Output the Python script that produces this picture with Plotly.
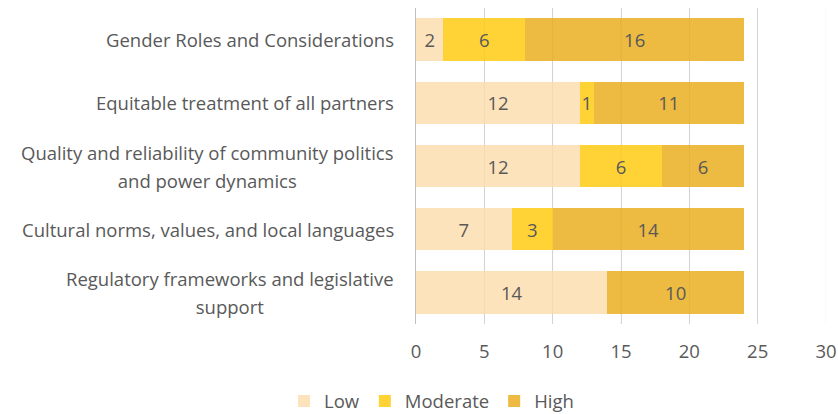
import plotly.graph_objects as go

categories = [
    "Gender Roles and Considerations",
    "Equitable treatment of all partners",
    "Quality and reliability of community politics<br>and power dynamics",
    "Cultural norms, values, and local languages",
    "Regulatory frameworks and legislative<br>support",
]
low = [2, 12, 12, 7, 14]
moderate = [6, 1, 6, 3, 0]
high = [16, 11, 6, 14, 10]
x_ticks = [0, 5, 10, 15, 20, 25, 30]

series = [
    ("Low", low, "#FDE3BB"),
    ("Moderate", moderate, "#FFD336"),
    ("High", high, "#EDBA42"),
]

FONT = "'Open Sans', Calibri, sans-serif"
GREY = "#595959"
SIZE = 18.5

fig = go.Figure()
for name, vals, color in series:
    fig.add_trace(go.Bar(
        y=list(range(len(categories))),
        x=vals,
        name=name,
        orientation="h",
        marker=dict(color=color, line=dict(width=0)),
        text=[str(v) if v else "" for v in vals],
        textposition="inside",
        insidetextanchor="middle",
        textfont=dict(family=FONT, size=SIZE, color=GREY),
        constraintext="none",
        hoverinfo="skip",
    ))

# Category labels as centred multi-line annotations on the left;
# a larger base font widens the line spacing while the spans keep the glyph size
for i, cat in enumerate(categories):
    lines = cat.split("<br>")
    text = "<br>".join(f"<span style='font-size:{SIZE}px'>{ln}</span>" for ln in lines)
    fig.add_annotation(
        x=0, xref="paper", y=i, yref="y",
        text=text, showarrow=False,
        xanchor="right", yanchor="middle", align="center",
        xshift=-20,
        font=dict(family=FONT, size=21.5, color=GREY),
    )

# faint gridline traces showing through the bars
for t in x_ticks[1:]:
    fig.add_shape(type="line", xref="x", yref="paper", x0=t, x1=t, y0=0, y1=1,
                  line=dict(color="rgba(0,0,0,0.04)", width=1), layer="above")

fig.update_layout(
    barmode="stack",
    bargap=0.33,
    width=838, height=414,
    margin=dict(l=416, r=12, t=8, b=90),
    paper_bgcolor="white",
    plot_bgcolor="white",
    font=dict(family=FONT, size=SIZE, color=GREY),
    legend=dict(
        orientation="h",
        xref="container", yref="container",
        x=0.515, y=0.03, xanchor="center", yanchor="middle",
        font=dict(family=FONT, size=SIZE, color=GREY),
        itemwidth=30, traceorder="normal",
    ),
)
fig.update_xaxes(
    range=[0, 30], tickvals=x_ticks, ticktext=[str(t) for t in x_ticks],
    showgrid=True, gridcolor="#DADADA", gridwidth=1,
    zeroline=False, showline=False, ticks="",
    tickfont=dict(family=FONT, size=SIZE, color=GREY),
    ticklabelstandoff=14,
    automargin=False,
)
fig.update_yaxes(
    range=[len(categories) - 0.5, -0.5],
    showticklabels=False, showgrid=False, zeroline=False,
    showline=True, linecolor="#BFBFBF", linewidth=1, ticks="",
    automargin=False,
)

fig.write_html("out.html")
